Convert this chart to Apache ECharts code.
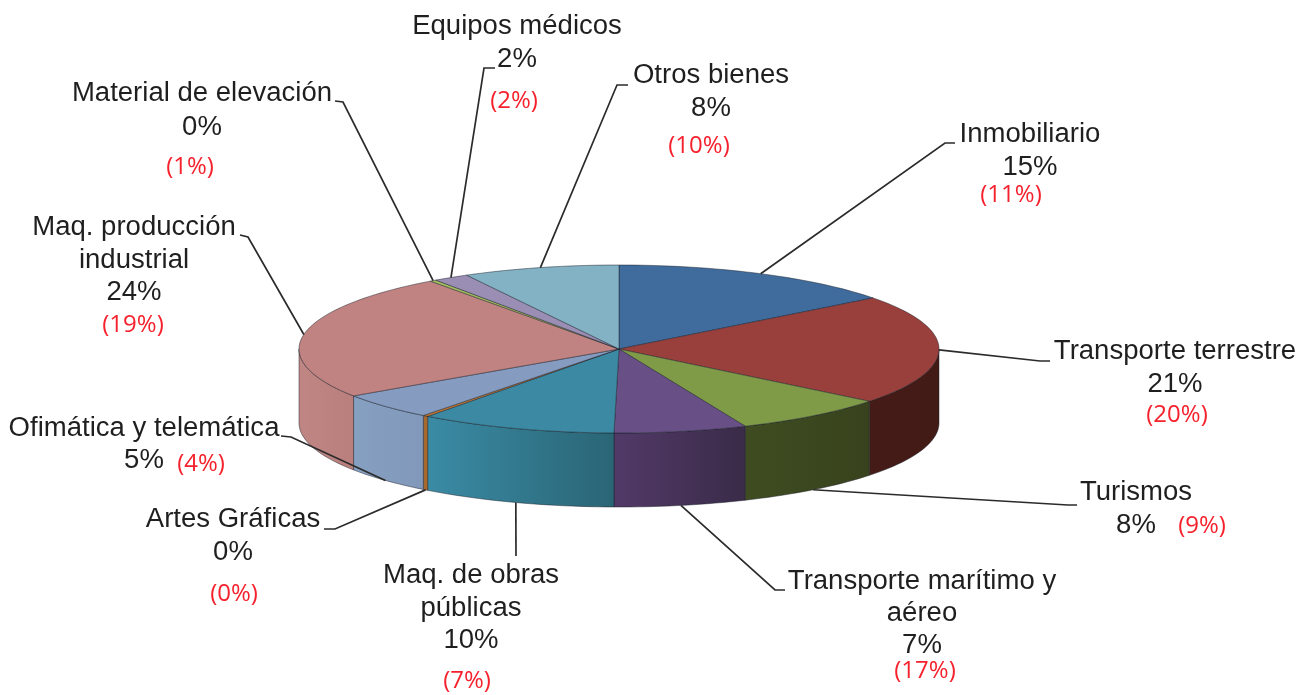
<!DOCTYPE html>
<html>
<head>
<meta charset="utf-8">
<title>Distribución por sectores</title>
<style>
  html, body { margin: 0; padding: 0; background: #fff; }
  #main { width: 1309px; height: 695px; }
</style>
<script src="https://cdn.jsdelivr.net/npm/echarts@6/dist/echarts.min.js"></script>
</head>
<body>
<div id="main"></div>
<script>
// data, clockwise from 12 o'clock
const categories = ['Inmobiliario', 'Transporte terrestre', 'Turismos', 'Transporte marítimo y aéreo',
  'Maq. de obras públicas', 'Artes Gráficas', 'Ofimática y telemática', 'Maq. producción industrial',
  'Material de elevación', 'Equipos médicos', 'Otros bienes'];
const shares = [14.6, 21.1, 7.85, 6.7, 9.95, 0.27, 5.1, 24.4, 0.33, 1.8, 7.9];
const priorYear = ['(11%)', '(20%)', '(9%)', '(17%)', '(7%)', '(0%)', '(4%)', '(19%)', '(1%)', '(2%)', '(10%)'];

// styles
const topColors = ['#3f6b9d', '#9a403c', '#7f9b48', '#684f86', '#3b89a3', '#c9782f', '#859cc0', '#c08381', '#a3bb62', '#9b8eb5', '#84b2c5'];
const wallColors = [null, ['#451b17', '#421a16'], ['#3f4c21', '#38431d'], ['#523a68', '#3a2b48'],
  ['#3a8ba5', '#2a6575'], ['#a8692f', '#a8692f'], ['#86a0c2', '#8198ba'], ['#c08683', '#b97f7c'], null, null, null];
const edge = 'rgba(25,30,40,0.6)';
const inkColor = '#1f1f1f';
const redColor = '#f5222d';

// pie geometry
const cx = 619, cy = 349, rx = 320, ry = 84, depth = 74;

// leader elbows and text lines for each slice: [elbowX, elbowY, endX, endY]; rim: 'top' or 'bottom'
const layout = [
  { rim: 'top', line: [945, 143, 955, 143], x: 1030, ys: [134, 167], red: [1011, 195], text: ['Inmobiliario'] },
  { rim: 'top', line: [1040, 361, 1050, 361], x: 1175, ys: [351, 384], red: [1177, 415], text: ['Transporte terrestre'] },
  { rim: 'bottom', line: [1068, 505, 1077, 505], x: 1136, ys: [492, 525], red: [1202, 526], text: ['Turismos'] },
  { rim: 'bottom', line: [775, 590, 785, 590], x: 922, ys: [581, 613, 645], red: [925, 671], text: ['Transporte marítimo y', 'aéreo'] },
  { rim: 'bottom', line: [516, 556, 516, 556], x: 471, ys: [575, 608, 640], red: [467, 681], text: ['Maq. de obras', 'públicas'] },
  { rim: 'bottom', line: [335, 529, 324, 529], x: 233, ys: [519, 552], red: [234, 594], text: ['Artes Gráficas'] },
  { rim: 'bottom', line: [291, 437, 281, 436], x: 144, ys: [428, 460], red: [201, 464], text: ['Ofimática y telemática'] },
  { rim: 'top', line: [248, 237, 240, 235], x: 134, ys: [227, 260, 292], red: [133, 325], text: ['Maq. producción', 'industrial'] },
  { rim: 'top', line: [343, 102, 335, 101], x: 202, ys: [93, 127], red: [190, 167], text: ['Material de elevación'] },
  { rim: 'top', line: [484, 68, 495, 68], x: 517, ys: [26, 59], red: [514, 101], text: ['Equipos médicos'] },
  { rim: 'top', line: [617, 85, 628, 85], x: 711, ys: [75, 108], red: [699, 146], text: ['Otros bienes'] }
];

const total = shares.reduce((a, b) => a + b, 0);
const starts = [];
shares.reduce((acc, v, i) => { starts[i] = acc; return acc + v / total * 360; }, 0);

function rim(deg, dy) {
  const a = deg * Math.PI / 180;
  return [cx + rx * Math.sin(a), cy - ry * Math.cos(a) + (dy || 0)];
}
function arc(from, to, dy) {
  const n = Math.max(2, Math.ceil(Math.abs(to - from) / 1.5));
  const pts = [];
  for (let i = 0; i <= n; i++) pts.push(rim(from + (to - from) * i / n, dy));
  return pts;
}
function span(i, v) {
  return [starts[i], starts[i] + v / total * 360];
}

const seriesData = shares.map((v) => [v]);

// front walls, only the part between 90 and 270 degrees is visible
function renderWall(params, api) {
  const i = params.dataIndex;
  const s = span(i, api.value(0));
  const from = Math.max(s[0], 90), to = Math.min(s[1], 270);
  if (to <= from || !wallColors[i]) return { type: 'group', children: [] };
  return {
    type: 'polygon',
    shape: { points: arc(from, to, 0).concat(arc(to, from, depth)) },
    style: {
      fill: new echarts.graphic.LinearGradient(0, 0, 1, 0, [
        { offset: 0, color: wallColors[i][0] },
        { offset: 1, color: wallColors[i][1] }
      ]),
      stroke: edge,
      lineWidth: 0.8
    }
  };
}

function renderTop(params, api) {
  const i = params.dataIndex;
  const s = span(i, api.value(0));
  return {
    type: 'polygon',
    shape: { points: [[cx, cy]].concat(arc(s[0], s[1], 0)) },
    style: { fill: topColors[i], stroke: edge, lineWidth: 0.8 }
  };
}

function renderLeader(params, api) {
  const i = params.dataIndex;
  const s = span(i, api.value(0));
  const mid = (s[0] + s[1]) / 2;
  const l = layout[i];
  const p = rim(mid, l.rim === 'bottom' ? depth : 0);
  return {
    type: 'polyline',
    shape: { points: [p, [l.line[0], l.line[1]], [l.line[2], l.line[3]]] },
    style: { fill: 'none', stroke: '#2b2b2b', lineWidth: 1.7 }
  };
}

function renderLabel(params, api) {
  const i = params.dataIndex;
  const l = layout[i];
  const lines = l.text.concat([Math.round(api.value(0) / total * 100) + '%']);
  const children = lines.map((t, k) => ({
    type: 'text',
    x: l.x,
    y: l.ys[k] + 1,
    scaleX: 1.02,
    style: {
      x: 0, y: 0, text: t, align: 'center', verticalAlign: 'middle',
      font: '27px "Liberation Sans", Arial, sans-serif', fill: inkColor
    }
  }));
  children.push({
    type: 'text',
    style: {
      x: l.red[0], y: l.red[1], text: priorYear[i], align: 'center', verticalAlign: 'middle',
      font: '500 24px "Open Sans", sans-serif', fill: redColor
    }
  });
  return { type: 'group', children: children };
}

const myChart = echarts.init(document.getElementById('main'), null, { renderer: 'canvas' });

const custom = (name, fn, z) => ({
  type: 'custom', name: name, coordinateSystem: 'none', renderItem: fn, data: seriesData,
  silent: true, animation: false, z: z
});

myChart.setOption({
  backgroundColor: '#ffffff',
  animation: false,
  series: [
    custom('paredes', renderWall, 1),
    custom('sectores', renderTop, 2),
    custom('guías', renderLeader, 3),
    custom('etiquetas', renderLabel, 4)
  ]
});

window.addEventListener('resize', myChart.resize);
</script>
</body>
</html>
